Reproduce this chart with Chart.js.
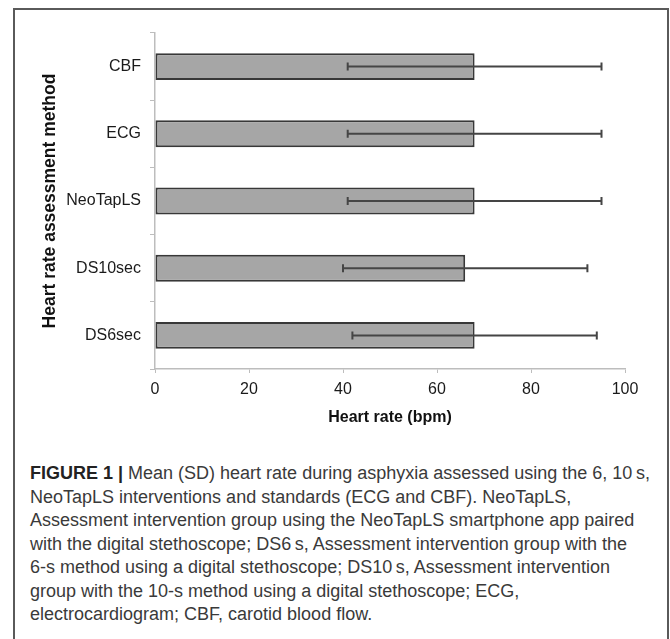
<!DOCTYPE html>
<html>
<head>
<meta charset="utf-8">
<script src="https://cdn.jsdelivr.net/npm/chart.js@4.4.1/dist/chart.umd.min.js"></script>
<style>
    html, body { margin: 0; padding: 0; background: #fff; }
    #wrap { position: relative; width: 670px; height: 639px; overflow: hidden; }
    #frame { position: absolute; left: 13px; top: 8px; width: 652px; height: 700px; border: 2px solid #5a5a5a; }
    #chart_box { position: absolute; left: 0; top: 0; width: 670px; height: 450px; }
    #caption {
        position: absolute; left: 30px; top: 462px;
        font-family: "Liberation Sans", Arial, sans-serif; font-size: 18px; line-height: 23.5px;
        color: #3a3a3a; white-space: nowrap;
    }
    #caption b { color: #222; }
</style>
</head>
<body>
<div id="wrap">
    <div id="frame"></div>
    <div id="chart_box"><canvas id="chart_hr" width="670" height="450"></canvas></div>
    <div id="caption">
        <b>FIGURE 1 |</b> Mean (SD) heart rate during asphyxia assessed using the 6, 10&#8201;s,<br>
        NeoTapLS interventions and standards (ECG and CBF). NeoTapLS,<br>
        Assessment intervention group using the NeoTapLS smartphone app paired<br>
        with the digital stethoscope; DS6&#8201;s, Assessment intervention group with the<br>
        6-s method using a digital stethoscope; DS10&#8201;s, Assessment intervention<br>
        group with the 10-s method using a digital stethoscope; ECG,<br>
        electrocardiogram; CBF, carotid blood flow.
    </div>
</div>
<script>
// values
const categories = ['CBF', 'ECG', 'NeoTapLS', 'DS10sec', 'DS6sec'];
const meanHR = [68, 68, 68, 66, 68];
const sdLow = [41, 41, 41, 40, 42];
const sdHigh = [95, 95, 95, 92, 94];
const xTicks = [0, 20, 40, 60, 80, 100];

const FONT = '"Liberation Sans", Arial, sans-serif';

// mean +/- SD whiskers
const errorBarPlugin = {
    id: 'errorBars',
    afterDatasetsDraw(chart) {
        const ctx = chart.ctx;
        const xScale = chart.scales.x;
        const meta = chart.getDatasetMeta(0);
        ctx.save();
        ctx.strokeStyle = '#454545';
        ctx.lineWidth = 2;
        meta.data.forEach((bar, i) => {
            const y = bar.y;
            const x1 = xScale.getPixelForValue(sdLow[i]);
            const x2 = xScale.getPixelForValue(sdHigh[i]);
            ctx.beginPath();
            ctx.moveTo(x1, y);
            ctx.lineTo(x2, y);
            ctx.moveTo(x1, y - 4);
            ctx.lineTo(x1, y + 4);
            ctx.moveTo(x2, y - 4);
            ctx.lineTo(x2, y + 4);
            ctx.stroke();
        });
        ctx.restore();
    }
};

const ctx = document.getElementById('chart_hr').getContext('2d');

new Chart(ctx, {
    type: 'bar',
    data: {
        labels: categories,
        datasets: [{
            label: 'Heart rate',
            data: meanHR,
            backgroundColor: '#a6a6a6',
            borderColor: '#383838',
            borderWidth: 2,
            borderSkipped: false,
            barPercentage: 0.4,
            categoryPercentage: 1.0
        }]
    },
    plugins: [errorBarPlugin],
    options: {
        indexAxis: 'y',
        responsive: false,
        animation: false,
        layout: {
            padding: { top: 33, right: 45, bottom: 0, left: 0 }
        },
        plugins: {
            legend: { display: false },
            tooltip: { enabled: false }
        },
        scales: {
            x: {
                min: 0,
                max: 100,
                afterBuildTicks: (scale) => {
                    scale.ticks = xTicks.map(v => ({ value: v }));
                },
                afterFit: (scale) => { scale.height = 81; },
                grid: {
                    drawOnChartArea: false,
                    tickLength: 4,
                    tickColor: '#bdbdbd'
                },
                border: { color: '#bdbdbd', width: 1.5 },
                ticks: {
                    padding: 7,
                    color: '#1a1a1a',
                    font: { family: FONT, size: 16 }
                },
                title: {
                    display: true,
                    text: 'Heart rate (bpm)',
                    color: '#111',
                    font: { family: FONT, size: 16, weight: 'bold' },
                    padding: { top: 0, bottom: 23 }
                }
            },
            y: {
                afterFit: (scale) => { scale.width = 155; },
                grid: {
                    drawOnChartArea: false,
                    tickLength: 5,
                    tickColor: '#bdbdbd'
                },
                border: { color: '#bdbdbd', width: 1.5 },
                ticks: {
                    padding: 9,
                    color: '#1a1a1a',
                    font: { family: FONT, size: 16 }
                },
                title: {
                    display: true,
                    text: 'Heart rate assessment method',
                    color: '#111',
                    font: { family: FONT, size: 17.5, weight: 'bold' },
                    padding: { top: 40, bottom: 0 }
                }
            }
        }
    }
});
</script>
</body>
</html>
